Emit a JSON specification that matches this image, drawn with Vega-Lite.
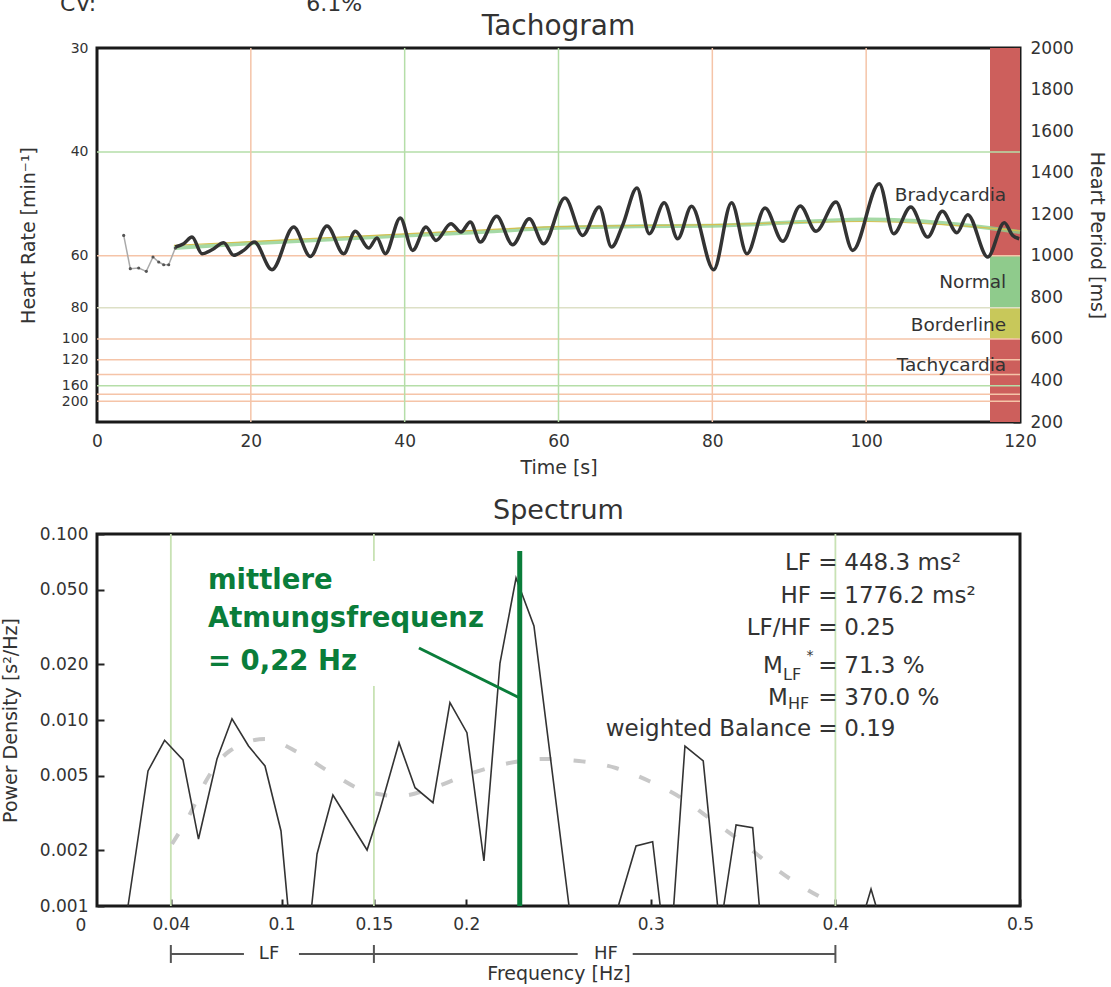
{
  "$schema": "https://vega.github.io/schema/vega-lite/v6.json",
  "background": "white",
  "padding": {"left": -1, "top": -9, "right": 2, "bottom": 4},
  "spacing": 16,
  "config": {
    "font": "DejaVu Sans",
    "view": {"stroke": "#1a1a1a", "strokeWidth": 3},
    "axis": {"domain": false, "grid": false, "ticks": false, "labelFont": "DejaVu Sans", "labelFontSize": 17, "labelColor": "#333", "titleFont": "DejaVu Sans", "titleFontSize": 19, "titleFontWeight": "normal", "titleColor": "#333", "labelFlush": false, "labelOverlap": false, "labelPadding": 8, "zindex": 1},
    "text": {"font": "DejaVu Sans"}
  },
  "vconcat": [
    {
      "width": 923,
      "height": 374,
      "resolve": {"scale": {"color": "independent"}, "axis": {"x": "independent", "y": "independent"}},
      "layer": [
        {
          "data": {"values": [
            {"t1": 116.1, "t2": 120, "p1": 1000, "p2": 2000, "zone": "Bradycardia"},
            {"t1": 116.1, "t2": 120, "p1": 750, "p2": 1000, "zone": "Normal"},
            {"t1": 116.1, "t2": 120, "p1": 600, "p2": 750, "zone": "Borderline"},
            {"t1": 116.1, "t2": 120, "p1": 200, "p2": 600, "zone": "Tachycardia"}
          ]},
          "mark": {"type": "rect"},
          "encoding": {
            "x": {"field": "t1", "type": "quantitative", "scale": {"domain": [0, 120], "nice": false, "zero": false},
                  "axis": {"values": [0, 20, 40, 60, 80, 100, 120], "format": "d", "title": "Time [s]", "labelPadding": 11, "titlePadding": 9}},
            "x2": {"field": "t2"},
            "y": {"field": "p1", "type": "quantitative", "scale": {"domain": [200, 2000], "nice": false, "zero": false},
                  "axis": {"orient": "left", "title": "Heart Rate [min⁻¹]", "values": [2000, 1500, 1000, 750, 600, 500, 375, 300], "labelExpr": "round(60000/datum.value)", "labelFontSize": 14, "labelPadding": 9, "titlePadding": 23}},
            "y2": {"field": "p2"},
            "color": {"field": "zone", "type": "nominal", "scale": {"domain": ["Bradycardia", "Normal", "Borderline", "Tachycardia"], "range": ["#cd5f5c", "#8fcb8c", "#c8c85a", "#cd5f5c"]}, "legend": null}
          }
        },
        {
          "data": {"values": [
            {"p": 1500, "k": "g"}, {"p": 1000, "k": "o"}, {"p": 750, "k": "b"}, {"p": 600, "k": "o"}, {"p": 500, "k": "o"},
            {"p": 428.57, "k": "o"}, {"p": 375, "k": "g"}, {"p": 333.33, "k": "o"}, {"p": 300, "k": "o"}
          ]},
          "mark": {"type": "rule", "strokeWidth": 1.5},
          "encoding": {
            "y": {"field": "p", "type": "quantitative", "axis": null},
            "color": {"field": "k", "type": "nominal", "scale": {"domain": ["g", "o", "b"], "range": ["#b5dea8", "#f5c4a8", "#dde0c6"]}, "legend": null}
          }
        },
        {
          "data": {"values": [
            {"t": 20, "k": "o"}, {"t": 40, "k": "g"}, {"t": 60, "k": "g"}, {"t": 80, "k": "o"}, {"t": 100, "k": "o"}
          ]},
          "mark": {"type": "rule", "strokeWidth": 1.5},
          "encoding": {
            "x": {"field": "t", "type": "quantitative", "axis": null},
            "color": {"field": "k", "type": "nominal", "scale": {"domain": ["g", "o"], "range": ["#b5dea8", "#f5c4a8"]}, "legend": null}
          }
        },
        {
          "data": {"values": [
            {"t": 10, "p": 1037}, {"t": 20, "p": 1060}, {"t": 30, "p": 1078}, {"t": 40, "p": 1097}, {"t": 50, "p": 1115},
            {"t": 60, "p": 1135}, {"t": 70, "p": 1142}, {"t": 80, "p": 1145}, {"t": 90, "p": 1160}, {"t": 100, "p": 1175},
            {"t": 106, "p": 1168}, {"t": 112, "p": 1150}, {"t": 116, "p": 1134}, {"t": 120, "p": 1114}
          ]},
          "mark": {"type": "line", "color": "#8fd08f", "strokeWidth": 4, "opacity": 0.8, "interpolate": "monotone"},
          "encoding": {
            "x": {"field": "t", "type": "quantitative", "axis": null},
            "y": {"field": "p", "type": "quantitative", "axis": null}
          }
        },
        {
          "data": {"values": [
            {"t": 10, "p": 1050}, {"t": 40, "p": 1105}, {"t": 60, "p": 1140}, {"t": 80, "p": 1150}, {"t": 100, "p": 1165},
            {"t": 110, "p": 1150}, {"t": 120, "p": 1120}
          ]},
          "mark": {"type": "line", "color": "#d4c050", "strokeWidth": 1.2, "interpolate": "monotone"},
          "encoding": {
            "x": {"field": "t", "type": "quantitative", "axis": null},
            "y": {"field": "p", "type": "quantitative", "axis": null}
          }
        },
        {
          "data": {"values": [
            {"t": 3.47, "p": 1098}, {"t": 4.33, "p": 938}, {"t": 5.42, "p": 941}, {"t": 6.41, "p": 925}, {"t": 7.28, "p": 994},
            {"t": 8.02, "p": 970}, {"t": 8.67, "p": 957}, {"t": 9.32, "p": 957}, {"t": 10.18, "p": 1037}
          ]},
          "mark": {"type": "line", "color": "#aaaaaa", "strokeWidth": 1.5, "point": {"filled": true, "size": 10, "color": "#555555"}},
          "encoding": {
            "x": {"field": "t", "type": "quantitative", "axis": null},
            "y": {"field": "p", "type": "quantitative", "axis": null}
          }
        },
        {
          "data": {"values": [
            {"t": 10.18, "p": 1042}, {"t": 11.27, "p": 1058}, {"t": 12.35, "p": 1090}, {"t": 13.65, "p": 1010}, {"t": 14.95, "p": 1029},
            {"t": 16.47, "p": 1063}, {"t": 17.77, "p": 1002}, {"t": 19.07, "p": 1026}, {"t": 20.45, "p": 1066}, {"t": 22.75, "p": 933},
            {"t": 25.57, "p": 1138}, {"t": 27.73, "p": 997}, {"t": 29.9, "p": 1143}, {"t": 32.07, "p": 1010}, {"t": 33.58, "p": 1118},
            {"t": 35.32, "p": 1037}, {"t": 36.4, "p": 1086}, {"t": 37.48, "p": 1010}, {"t": 39.43, "p": 1182}, {"t": 41.04, "p": 1026},
            {"t": 42.77, "p": 1138}, {"t": 44.07, "p": 1074}, {"t": 46.02, "p": 1154}, {"t": 47.32, "p": 1114}, {"t": 48.53, "p": 1163},
            {"t": 49.83, "p": 1066}, {"t": 51.96, "p": 1190}, {"t": 54.04, "p": 1053}, {"t": 56.2, "p": 1178}, {"t": 58.07, "p": 1058},
            {"t": 60.84, "p": 1278}, {"t": 63.14, "p": 1098}, {"t": 65.3, "p": 1235}, {"t": 66.9, "p": 1042}, {"t": 68.34, "p": 1147},
            {"t": 70.2, "p": 1326}, {"t": 71.8, "p": 1106}, {"t": 73.75, "p": 1255}, {"t": 75.5, "p": 1082}, {"t": 77.3, "p": 1238},
            {"t": 80.17, "p": 933}, {"t": 82.5, "p": 1255}, {"t": 84.5, "p": 1010}, {"t": 86.85, "p": 1230}, {"t": 89.15, "p": 1070},
            {"t": 91.43, "p": 1240}, {"t": 93.48, "p": 1118}, {"t": 96.08, "p": 1259}, {"t": 98.25, "p": 1026}, {"t": 101.7, "p": 1347},
            {"t": 103.57, "p": 1106}, {"t": 105.8, "p": 1235}, {"t": 108, "p": 1090}, {"t": 109.9, "p": 1214}, {"t": 111.8, "p": 1111},
            {"t": 113.2, "p": 1198}, {"t": 115.8, "p": 994}, {"t": 117.96, "p": 1159}, {"t": 119.05, "p": 1098}, {"t": 119.9, "p": 1082}
          ]},
          "mark": {"type": "line", "color": "#333333", "strokeWidth": 3.5, "interpolate": "monotone"},
          "encoding": {
            "x": {"field": "t", "type": "quantitative", "axis": null},
            "y": {"field": "p", "type": "quantitative",
                  "axis": {"orient": "right", "title": "Heart Period [ms]", "values": [200, 400, 600, 800, 1000, 1200, 1400, 1600, 1800, 2000], "format": "d", "labelPadding": 17, "titlePadding": 13, "ticks": true, "tickSize": -7, "tickWidth": 2, "tickColor": "#222"}}
          }
        },
        {
          "data": {"values": [
            {"t": 118.2, "p": 1292, "label": "Bradycardia"},
            {"t": 118.2, "p": 874, "label": "Normal"},
            {"t": 118.2, "p": 668, "label": "Borderline"},
            {"t": 118.2, "p": 474, "label": "Tachycardia"}
          ]},
          "mark": {"type": "text", "align": "right", "baseline": "middle", "fontSize": 18.5, "color": "#333"},
          "encoding": {
            "x": {"field": "t", "type": "quantitative", "axis": null},
            "y": {"field": "p", "type": "quantitative", "axis": null},
            "text": {"field": "label"}
          }
        },
        {
          "data": {"values": [
            {"t": -4.8, "p": 2178, "label": "CV:"},
            {"t": 27.2, "p": 2178, "label": "6.1%"}
          ]},
          "mark": {"type": "text", "align": "left", "baseline": "alphabetic", "fontSize": 22, "color": "#333"},
          "encoding": {
            "x": {"field": "t", "type": "quantitative", "axis": null},
            "y": {"field": "p", "type": "quantitative", "axis": null},
            "text": {"field": "label"}
          }
        },
        {
          "data": {"values": [{"t": 60, "p": 2101, "label": "Tachogram"}]},
          "mark": {"type": "text", "align": "center", "baseline": "middle", "fontSize": 28, "color": "#333"},
          "encoding": {
            "x": {"field": "t", "type": "quantitative", "axis": null},
            "y": {"field": "p", "type": "quantitative", "axis": null},
            "text": {"field": "label"}
          }
        }
      ]
    },
    {
      "width": 923,
      "height": 372,
      "resolve": {"axis": {"x": "independent", "y": "independent"}},
      "layer": [
        {
          "data": {"values": [
            {"f": 0.04, "v1": 0.001, "v2": 0.1},
            {"f": 0.15, "v1": 0.0716, "v2": 0.1},
            {"f": 0.15, "v1": 0.001, "v2": 0.01524},
            {"f": 0.4, "v1": 0.001, "v2": 0.1}
          ]},
          "mark": {"type": "rule", "color": "#c8e2b4", "strokeWidth": 1.8},
          "encoding": {
            "x": {"field": "f", "type": "quantitative", "scale": {"domain": [0, 0.5], "nice": false, "zero": false},
                  "axis": {"values": [0.04, 0.1, 0.15, 0.2, 0.3, 0.4, 0.5], "labelExpr": "'' + datum.value", "title": "Frequency [Hz]", "labelPadding": 17, "titlePadding": 32, "ticks": true, "tickSize": -7, "tickWidth": 2, "tickColor": "#222"}},
            "y": {"field": "v1", "type": "quantitative", "scale": {"type": "log", "domain": [0.001, 0.1], "nice": false},
                  "axis": {"values": [0.001, 0.002, 0.005, 0.01, 0.02, 0.05, 0.1], "format": ".3f", "title": "Power Density [s²/Hz]", "labelPadding": 16, "titlePadding": 19, "ticks": true, "tickSize": -7, "tickWidth": 2, "tickColor": "#222"}},
            "y2": {"field": "v2"}
          }
        },
        {
          "data": {"values": [
            {"f": 0.04063, "v": 0.002154}, {"f": 0.05038, "v": 0.003126}, {"f": 0.05905, "v": 0.004698}, {"f": 0.07183, "v": 0.006813},
            {"f": 0.091, "v": 0.007906}, {"f": 0.1094, "v": 0.00665}, {"f": 0.1268, "v": 0.00519}, {"f": 0.1452, "v": 0.00415},
            {"f": 0.1636, "v": 0.003903}, {"f": 0.1831, "v": 0.004363}, {"f": 0.2015, "v": 0.005125}, {"f": 0.2208, "v": 0.0058},
            {"f": 0.2411, "v": 0.006172}, {"f": 0.2611, "v": 0.006021}, {"f": 0.2811, "v": 0.00552}, {"f": 0.299, "v": 0.004698},
            {"f": 0.3174, "v": 0.003761}, {"f": 0.3337, "v": 0.002864}, {"f": 0.3478, "v": 0.002265}, {"f": 0.364, "v": 0.001688},
            {"f": 0.3814, "v": 0.001281}, {"f": 0.3976, "v": 0.001042}
          ]},
          "mark": {"type": "line", "color": "#c8c8c8", "strokeWidth": 4, "strokeDash": [12, 22], "interpolate": "monotone"},
          "encoding": {
            "x": {"field": "f", "type": "quantitative", "axis": null},
            "y": {"field": "v", "type": "quantitative", "axis": null}
          }
        },
        {
          "data": {"values": [
            {"seg": "A", "f": 0.0168, "v": 0.001}, {"seg": "A", "f": 0.02763, "v": 0.005321}, {"seg": "A", "f": 0.03662, "v": 0.00778},
            {"seg": "A", "f": 0.04659, "v": 0.006095}, {"seg": "A", "f": 0.05498, "v": 0.002291}, {"seg": "A", "f": 0.065, "v": 0.006172},
            {"seg": "A", "f": 0.07313, "v": 0.01016}, {"seg": "A", "f": 0.08207, "v": 0.007246}, {"seg": "A", "f": 0.09101, "v": 0.00566},
            {"seg": "A", "f": 0.09967, "v": 0.002531}, {"seg": "A", "f": 0.1034, "v": 0.001},
            {"seg": "B", "f": 0.1163, "v": 0.001}, {"seg": "B", "f": 0.1192, "v": 0.001905}, {"seg": "B", "f": 0.1278, "v": 0.003952},
            {"seg": "B", "f": 0.1463, "v": 0.002}, {"seg": "B", "f": 0.1531, "v": 0.003243}, {"seg": "B", "f": 0.1636, "v": 0.007551},
            {"seg": "B", "f": 0.1723, "v": 0.004325}, {"seg": "B", "f": 0.182, "v": 0.003592}, {"seg": "B", "f": 0.1912, "v": 0.01239},
            {"seg": "B", "f": 0.2004, "v": 0.008547}, {"seg": "B", "f": 0.2096, "v": 0.001746}, {"seg": "B", "f": 0.2183, "v": 0.02025},
            {"seg": "B", "f": 0.227, "v": 0.058}, {"seg": "B", "f": 0.2367, "v": 0.03201}, {"seg": "B", "f": 0.2557, "v": 0.001},
            {"seg": "C", "f": 0.2824, "v": 0.001}, {"seg": "C", "f": 0.292, "v": 0.002103}, {"seg": "C", "f": 0.301, "v": 0.002217}, {"seg": "C", "f": 0.3051, "v": 0.001},
            {"seg": "D", "f": 0.3124, "v": 0.001}, {"seg": "D", "f": 0.3185, "v": 0.007246}, {"seg": "D", "f": 0.3284, "v": 0.006021}, {"seg": "D", "f": 0.3362, "v": 0.001},
            {"seg": "E", "f": 0.3395, "v": 0.001}, {"seg": "E", "f": 0.3462, "v": 0.002726}, {"seg": "E", "f": 0.3552, "v": 0.002636}, {"seg": "E", "f": 0.3588, "v": 0.001},
            {"seg": "F", "f": 0.4166, "v": 0.001}, {"seg": "F", "f": 0.4193, "v": 0.001234}, {"seg": "F", "f": 0.422, "v": 0.001}
          ]},
          "mark": {"type": "line", "color": "#333333", "strokeWidth": 1.6},
          "encoding": {
            "x": {"field": "f", "type": "quantitative", "axis": null},
            "y": {"field": "v", "type": "quantitative", "axis": null},
            "detail": {"field": "seg", "type": "nominal"}
          }
        },
        {
          "data": {"values": [{"f": 0.229, "v1": 0.001, "v2": 0.081}]},
          "mark": {"type": "rule", "color": "#0a7d3a", "strokeWidth": 5},
          "encoding": {
            "x": {"field": "f", "type": "quantitative", "axis": null},
            "y": {"field": "v1", "type": "quantitative", "axis": null},
            "y2": {"field": "v2"}
          }
        },
        {
          "data": {"values": [{"f1": 0.1744, "v1": 0.02438, "f2": 0.229, "v2": 0.01313}]},
          "mark": {"type": "rule", "color": "#0a7d3a", "strokeWidth": 3},
          "encoding": {
            "x": {"field": "f1", "type": "quantitative", "axis": null},
            "x2": {"field": "f2"},
            "y": {"field": "v1", "type": "quantitative", "axis": null},
            "y2": {"field": "v2"}
          }
        },
        {
          "data": {"values": [
            {"f": 0.0601, "v": 0.05588, "s": "mittlere"},
            {"f": 0.0601, "v": 0.03491, "s": "Atmungsfrequenz"},
            {"f": 0.0601, "v": 0.02051, "s": "= 0,22 Hz"}
          ]},
          "mark": {"type": "text", "align": "left", "baseline": "middle", "fontSize": 27.5, "fontWeight": "bold", "color": "#0a7d3a"},
          "encoding": {
            "x": {"field": "f", "type": "quantitative", "axis": null},
            "y": {"field": "v", "type": "quantitative", "axis": null},
            "text": {"field": "s"}
          }
        },
        {
          "data": {"values": [
            {"f": 0.4012, "v": 0.07009, "s": "LF ="},
            {"f": 0.4012, "v": 0.04642, "s": "HF ="},
            {"f": 0.4012, "v": 0.03112, "s": "LF/HF ="},
            {"f": 0.4012, "v": 0.01951, "s": "="},
            {"f": 0.4012, "v": 0.01318, "s": "="},
            {"f": 0.4012, "v": 0.008913, "s": "weighted Balance ="},
            {"f": 0.3716, "v": 0.01951, "s": "M"},
            {"f": 0.3743, "v": 0.01318, "s": "M"}
          ]},
          "mark": {"type": "text", "align": "right", "baseline": "middle", "fontSize": 23, "color": "#333"},
          "encoding": {
            "x": {"field": "f", "type": "quantitative", "axis": null},
            "y": {"field": "v", "type": "quantitative", "axis": null},
            "text": {"field": "s"}
          }
        },
        {
          "data": {"values": [
            {"f": 0.4048, "v": 0.07009, "s": "448.3 ms²"},
            {"f": 0.4048, "v": 0.04642, "s": "1776.2 ms²"},
            {"f": 0.4048, "v": 0.03112, "s": "0.25"},
            {"f": 0.4048, "v": 0.01951, "s": "71.3 %"},
            {"f": 0.4048, "v": 0.01318, "s": "370.0 %"},
            {"f": 0.4048, "v": 0.008913, "s": "0.19"}
          ]},
          "mark": {"type": "text", "align": "left", "baseline": "middle", "fontSize": 23, "color": "#333"},
          "encoding": {
            "x": {"field": "f", "type": "quantitative", "axis": null},
            "y": {"field": "v", "type": "quantitative", "axis": null},
            "text": {"field": "s"}
          }
        },
        {
          "data": {"values": [
            {"f": 0.3716, "v": 0.01746, "s": "LF"},
            {"f": 0.3743, "v": 0.01214, "s": "HF"}
          ]},
          "mark": {"type": "text", "align": "left", "baseline": "middle", "fontSize": 16, "color": "#333"},
          "encoding": {
            "x": {"field": "f", "type": "quantitative", "axis": null},
            "y": {"field": "v", "type": "quantitative", "axis": null},
            "text": {"field": "s"}
          }
        },
        {
          "data": {"values": [{"f": 0.3862, "v": 0.02208, "s": "*"}]},
          "mark": {"type": "text", "align": "center", "baseline": "middle", "fontSize": 14, "color": "#333"},
          "encoding": {
            "x": {"field": "f", "type": "quantitative", "axis": null},
            "y": {"field": "v", "type": "quantitative", "axis": null},
            "text": {"field": "s"}
          }
        },
        {
          "data": {"values": [
            {"f1": 0.04, "f2": 0.0796, "v": 0.000552},
            {"f1": 0.1094, "f2": 0.15, "v": 0.000552},
            {"f1": 0.15, "f2": 0.2604, "v": 0.000552},
            {"f1": 0.2902, "f2": 0.4, "v": 0.000552}
          ]},
          "mark": {"type": "rule", "color": "#555", "strokeWidth": 2},
          "encoding": {
            "x": {"field": "f1", "type": "quantitative", "axis": null},
            "x2": {"field": "f2"},
            "y": {"field": "v", "type": "quantitative", "axis": null}
          }
        },
        {
          "data": {"values": [
            {"f": 0.04, "v1": 0.000617, "v2": 0.000494},
            {"f": 0.15, "v1": 0.000617, "v2": 0.000494},
            {"f": 0.4, "v1": 0.000617, "v2": 0.000494}
          ]},
          "mark": {"type": "rule", "color": "#555", "strokeWidth": 2},
          "encoding": {
            "x": {"field": "f", "type": "quantitative", "axis": null},
            "y": {"field": "v1", "type": "quantitative", "axis": null},
            "y2": {"field": "v2"}
          }
        },
        {
          "data": {"values": [
            {"f": 0.0932, "v": 0.000552, "s": "LF"},
            {"f": 0.2757, "v": 0.000552, "s": "HF"}
          ]},
          "mark": {"type": "text", "align": "center", "baseline": "middle", "fontSize": 18, "color": "#333"},
          "encoding": {
            "x": {"field": "f", "type": "quantitative", "axis": null},
            "y": {"field": "v", "type": "quantitative", "axis": null},
            "text": {"field": "s"}
          }
        },
        {
          "data": {"values": [{"f": -0.0087, "v": 0.000781, "s": "0"}]},
          "mark": {"type": "text", "align": "center", "baseline": "middle", "fontSize": 17, "color": "#333"},
          "encoding": {
            "x": {"field": "f", "type": "quantitative", "axis": null},
            "y": {"field": "v", "type": "quantitative", "axis": null},
            "text": {"field": "s"}
          }
        },
        {
          "data": {"values": [{"f": 0.25, "v": 0.1329, "s": "Spectrum"}]},
          "mark": {"type": "text", "align": "center", "baseline": "middle", "fontSize": 27, "color": "#333"},
          "encoding": {
            "x": {"field": "f", "type": "quantitative", "axis": null},
            "y": {"field": "v", "type": "quantitative", "axis": null},
            "text": {"field": "s"}
          }
        }
      ]
    }
  ]
}
